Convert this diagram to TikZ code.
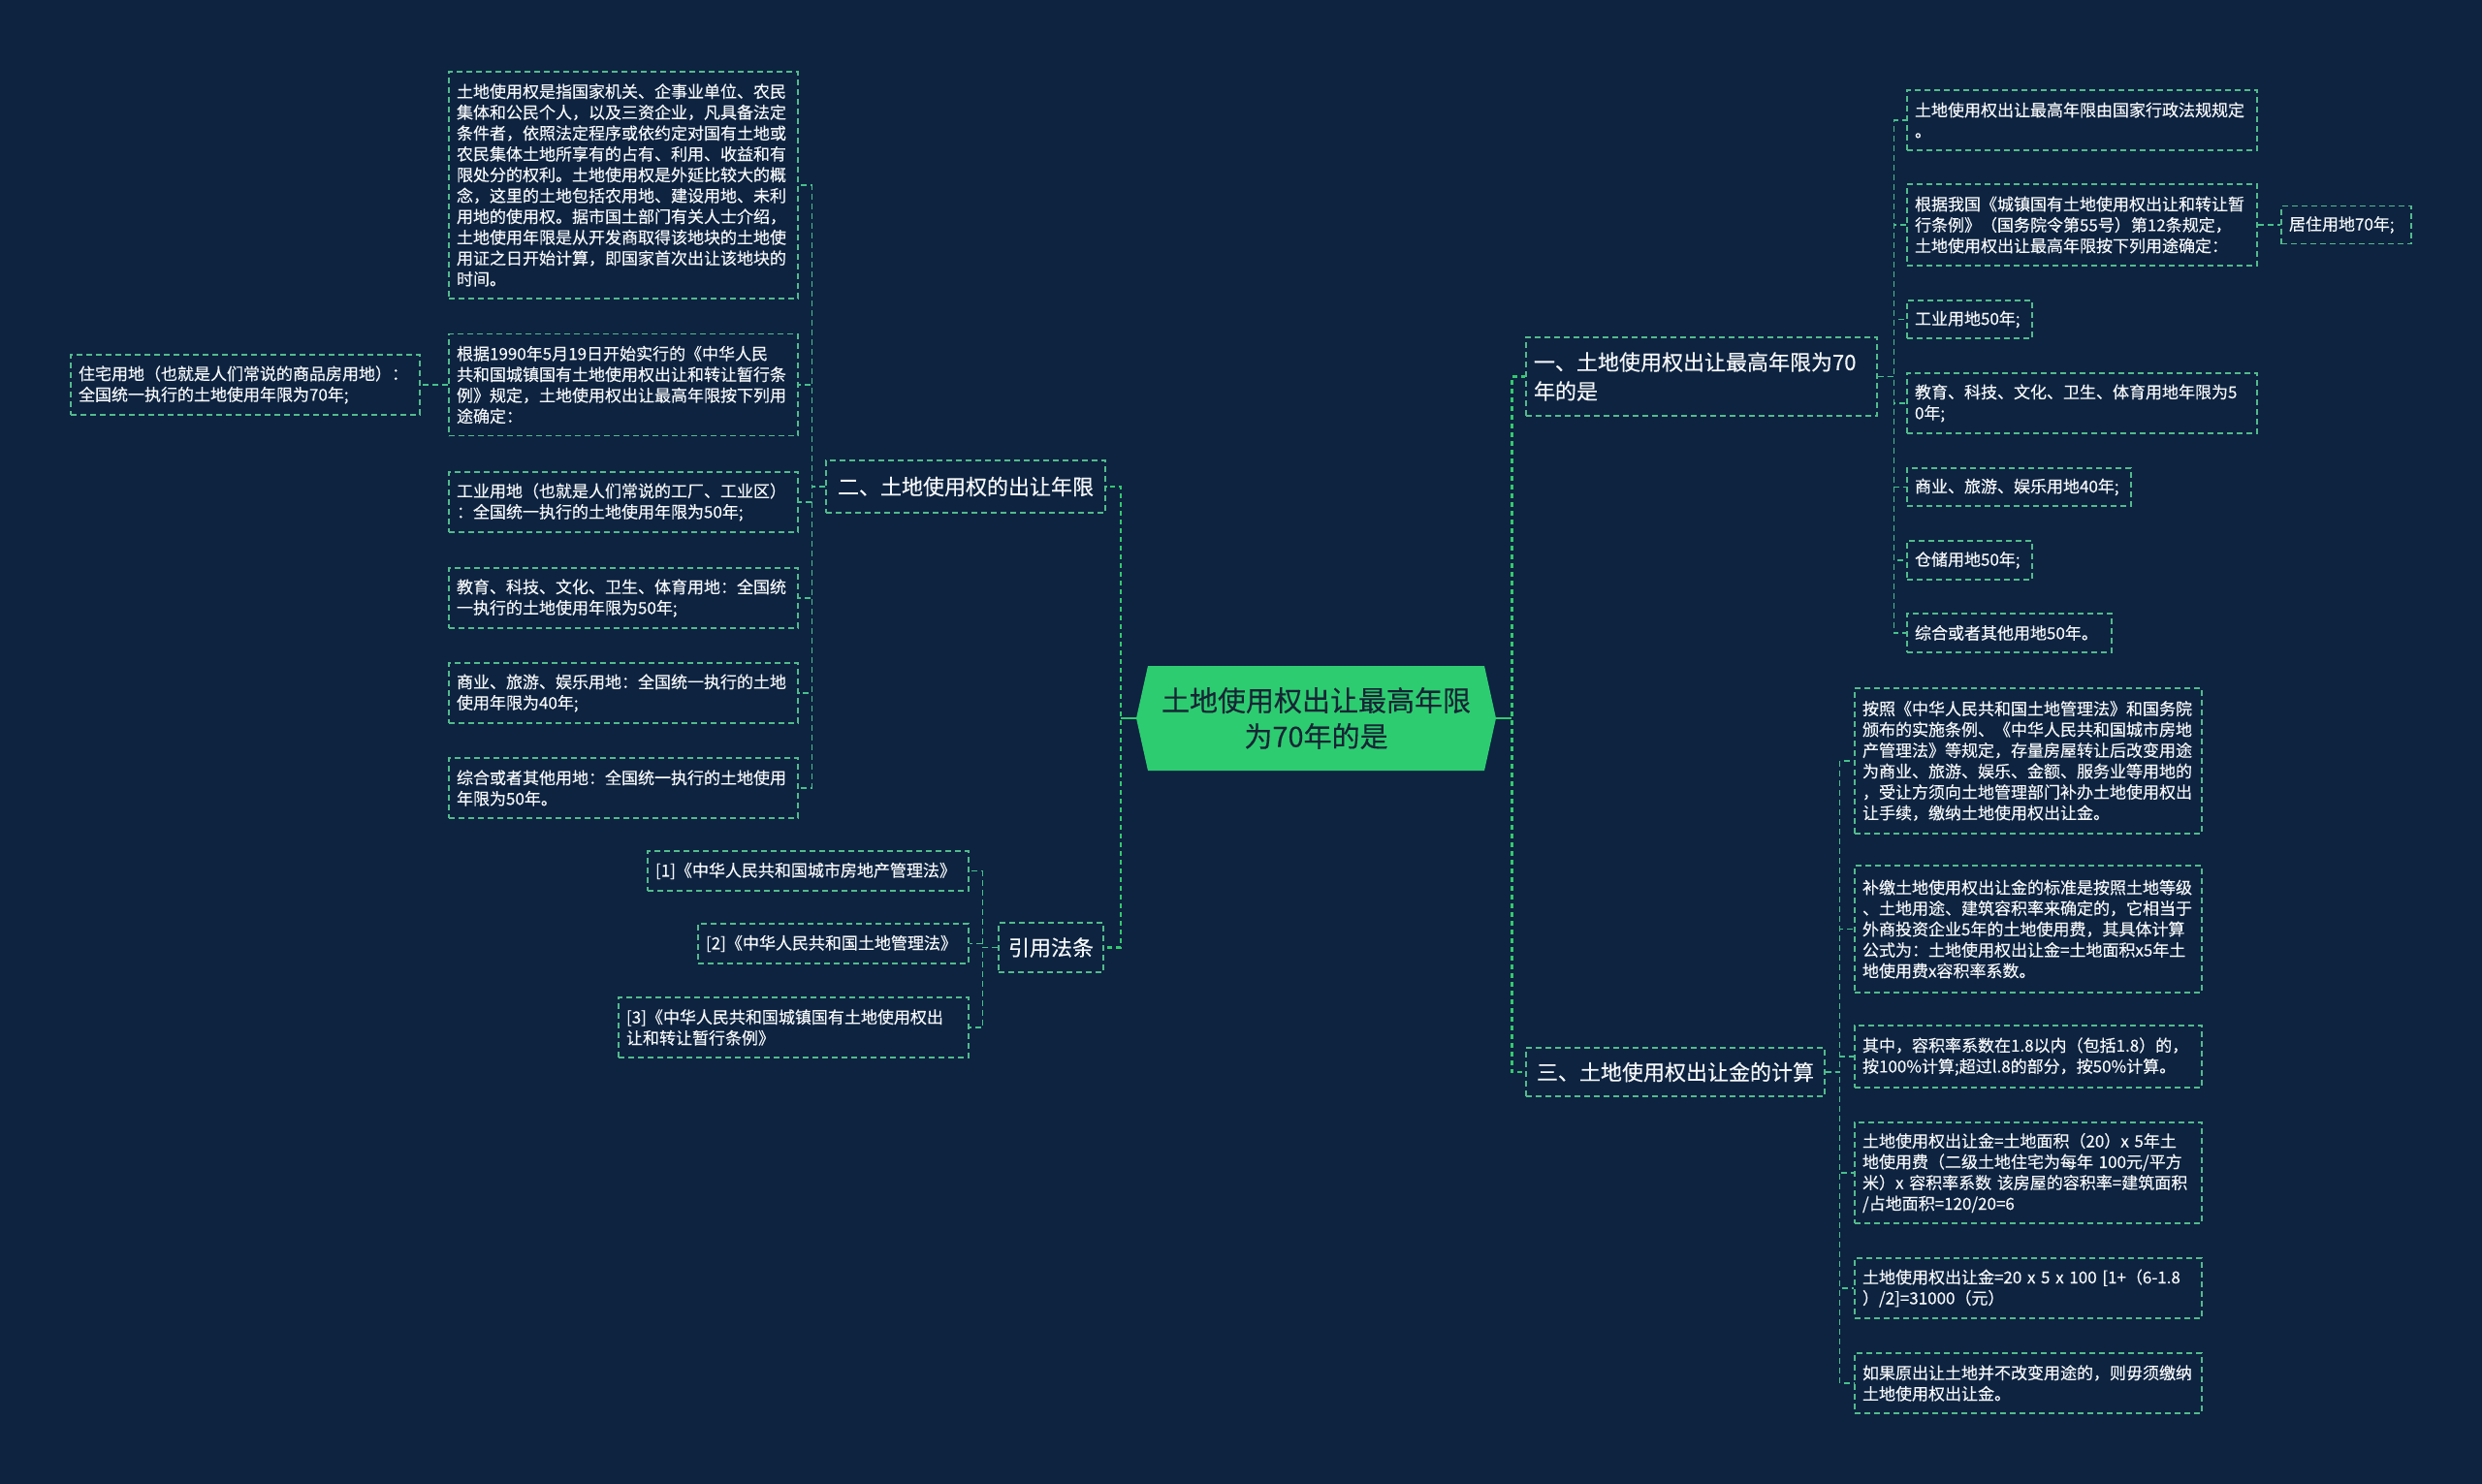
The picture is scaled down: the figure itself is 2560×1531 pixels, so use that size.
\documentclass[tikz,border=0pt]{standalone}
\usepackage{fontspec}
\setmainfont{Noto Sans CJK SC}[FakeBold=0.3]
\usepackage{tikz}
\usetikzlibrary{shapes.symbols}
\definecolor{navybg}{RGB}{13,35,64}
\definecolor{rootgreen}{RGB}{46,204,113}
\definecolor{rootink}{RGB}{22,38,52}
\definecolor{busgreen}{RGB}{52,200,110}
\definecolor{linkgreen}{RGB}{72,192,140}
\definecolor{boxgreen}{RGB}{84,186,140}
\definecolor{paleink}{RGB}{244,246,248}
\tikzset{
  mainlink/.style={draw=busgreen, line width=2.6pt, dash pattern=on 5pt off 4pt},
  mainstub/.style={draw=busgreen, line width=2.6pt},
  link/.style={draw=linkgreen, line width=1.5pt, dash pattern=on 6pt off 4pt},
  box/.style={
    draw=boxgreen,
    line width=1.4pt,
    dash pattern=on 6pt off 4pt,
    text=paleink,
    align=left,
    inner xsep=8pt,
    inner ysep=0pt
  },
  leaf/.style={box, font=\fontsize{17}{21.5}\selectfont},
  branch/.style={box, font=\fontsize{22}{30}\selectfont},
  rootbox/.style={
    shape=signal,
    signal to=west and east,
    signal pointer angle=155,
    fill=rootgreen,
    text=rootink,
    align=center,
    inner sep=0pt,
    font=\fontsize{29}{37}\selectfont
  }
}

\begin{document}
\begin{tikzpicture}[x=1pt,y=-1pt]
  \useasboundingbox (0,0) rectangle (2560,1531);
  \fill[navybg] (0,0) rectangle (2560,1531);

  \node[rootbox, minimum width=371pt, minimum height=108pt] (root) at (1357.5,741) {土地使用权出让最高年限\\为70年的是};

  % left half
  \node[branch, minimum width=288pt, minimum height=54pt] (sectwo) at (996,502) {二、土地使用权的出让年限};
  \node[branch, minimum width=108pt, minimum height=51pt] (lawref) at (1084,977.5) {引用法条};

  \node[leaf, text width=344pt, minimum height=234pt] (landdef) at (643,191) {土地使用权是指国家机关、企事业单位、农民\\集体和公民个人，以及三资企业，凡具备法定\\条件者，依照法定程序或依约定对国有土地或\\农民集体土地所享有的占有、利用、收益和有\\限处分的权利。土地使用权是外延比较大的概\\念，这里的土地包括农用地、建设用地、未利\\用地的使用权。据市国土部门有关人士介绍，\\土地使用年限是从开发商取得该地块的土地使\\用证之日开始计算，即国家首次出让该地块的\\时间。};
  \node[leaf, text width=344pt, minimum height=105pt] (oldrule) at (643,397) {根据1990年5月19日开始实行的《中华人民\\共和国城镇国有土地使用权出让和转让暂行条\\例》规定，土地使用权出让最高年限按下列用\\途确定：};
  \node[leaf, text width=344pt, minimum height=62pt] (housing) at (253,397) {住宅用地（也就是人们常说的商品房用地）：\\全国统一执行的土地使用年限为70年;};
  \node[leaf, text width=344pt, minimum height=62pt] (factory) at (643,518) {工业用地（也就是人们常说的工厂、工业区）\\：全国统一执行的土地使用年限为50年;};
  \node[leaf, text width=344pt, minimum height=62pt] (school) at (643,617) {教育、科技、文化、卫生、体育用地：全国统\\一执行的土地使用年限为50年;};
  \node[leaf, text width=344pt, minimum height=62pt] (business) at (643,715) {商业、旅游、娱乐用地：全国统一执行的土地\\使用年限为40年;};
  \node[leaf, text width=344pt, minimum height=62pt] (mixeduse) at (643,813) {综合或者其他用地：全国统一执行的土地使用\\年限为50年。};

  \node[leaf, text width=315pt, minimum height=41pt] (refone) at (833.5,898.5) {[1]《中华人民共和国城市房地产管理法》};
  \node[leaf, text width=263pt, minimum height=41pt] (reftwo) at (859.5,973.5) {[2]《中华人民共和国土地管理法》};
  \node[leaf, text width=345pt, minimum height=62pt] (refthree) at (818.5,1060) {[3]《中华人民共和国城镇国有土地使用权出\\让和转让暂行条例》};

  % right half
  \node[branch, text width=346pt, minimum height=81pt] (secone) at (1755,388.5) {一、土地使用权出让最高年限为70\\年的是};
  \node[branch, minimum width=308pt, minimum height=50pt] (secthree) at (1728,1106) {三、土地使用权出让金的计算};

  \node[leaf, text width=345pt, minimum height=62pt] (statelaw) at (2147.5,124) {土地使用权出让最高年限由国家行政法规规定\\。};
  \node[leaf, text width=345pt, minimum height=84pt] (newrule) at (2147.5,232) {根据我国《城镇国有土地使用权出让和转让暂\\行条例》（国务院令第55号）第12条规定，\\土地使用权出让最高年限按下列用途确定：};
  \node[leaf, text width=118pt, minimum height=39pt] (housing70) at (2420,232) {居住用地70年;};
  \node[leaf, text width=113pt, minimum height=39pt] (factory50) at (2031.5,329.5) {工业用地50年;};
  \node[leaf, text width=345pt, minimum height=62pt] (school50) at (2147.5,416) {教育、科技、文化、卫生、体育用地年限为5\\0年;};
  \node[leaf, text width=215pt, minimum height=39pt] (business40) at (2082.5,502.5) {商业、旅游、娱乐用地40年;};
  \node[leaf, text width=113pt, minimum height=40pt] (storage50) at (2031.5,578) {仓储用地50年;};
  \node[leaf, text width=195pt, minimum height=40pt] (mixed50) at (2072.5,653) {综合或者其他用地50年。};

  \node[leaf, text width=342pt, minimum height=150pt] (resale) at (2092,785) {按照《中华人民共和国土地管理法》和国务院\\颁布的实施条例、《中华人民共和国城市房地\\产管理法》等规定，存量房屋转让后改变用途\\为商业、旅游、娱乐、金额、服务业等用地的\\，受让方须向土地管理部门补办土地使用权出\\让手续，缴纳土地使用权出让金。};
  \node[leaf, text width=342pt, minimum height=131pt] (feerule) at (2092,958.5) {补缴土地使用权出让金的标准是按照土地等级\\、土地用途、建筑容积率来确定的，它相当于\\外商投资企业5年的土地使用费，其具体计算\\公式为：土地使用权出让金=土地面积x5年土\\地使用费x容积率系数。};
  \node[leaf, text width=342pt, minimum height=64pt] (ratio) at (2092,1090) {其中，容积率系数在1.8以内（包括1.8）的，\\按100\%计算;超过l.8的部分，按50\%计算。};
  \node[leaf, text width=342pt, minimum height=104pt] (formula) at (2092,1210) {土地使用权出让金=土地面积（20）x 5年土\\地使用费（二级土地住宅为每年 100元/平方\\米）x 容积率系数 该房屋的容积率=建筑面积\\/占地面积=120/20=6};
  \node[leaf, text width=342pt, minimum height=62pt] (result) at (2092,1329) {土地使用权出让金=20 x 5 x 100 [1+（6-1.8\\）/2]=31000（元）};
  \node[leaf, text width=342pt, minimum height=62pt] (exempt) at (2092,1427) {如果原出让土地并不改变用途的，则毋须缴纳\\土地使用权出让金。};

  % connectors
  \draw[mainlink] (root.west) -- ++(-16,0) |- (sectwo.east);
  \draw[mainlink] (root.west) -- ++(-16,0) |- (lawref.east);
  \draw[mainstub] (root.west) -- ++(-16,0);
  \draw[mainlink] (root.east) -- ++(16,0) |- (secone.west);
  \draw[mainlink] (root.east) -- ++(16,0) |- (secthree.west);
  \draw[mainstub] (root.east) -- ++(16,0);

  \draw[link] (sectwo.west) -- ++(-14,0) |- (landdef.east);
  \draw[link] (sectwo.west) -- ++(-14,0) |- (oldrule.east);
  \draw[link] (sectwo.west) -- ++(-14,0) |- (factory.east);
  \draw[link] (sectwo.west) -- ++(-14,0) |- (school.east);
  \draw[link] (sectwo.west) -- ++(-14,0) |- (business.east);
  \draw[link] (sectwo.west) -- ++(-14,0) |- (mixeduse.east);
  \draw[link] (oldrule.west) -- (housing.east);

  \draw[link] (lawref.west) -- ++(-16,0) |- (refone.east);
  \draw[link] (lawref.west) -- ++(-16,0) |- (reftwo.east);
  \draw[link] (lawref.west) -- ++(-16,0) |- (refthree.east);

  \draw[link] (secone.east) -- ++(17,0) |- (statelaw.west);
  \draw[link] (secone.east) -- ++(17,0) |- (newrule.west);
  \draw[link] (secone.east) -- ++(17,0) |- (factory50.west);
  \draw[link] (secone.east) -- ++(17,0) |- (school50.west);
  \draw[link] (secone.east) -- ++(17,0) |- (business40.west);
  \draw[link] (secone.east) -- ++(17,0) |- (storage50.west);
  \draw[link] (secone.east) -- ++(17,0) |- (mixed50.west);
  \draw[link] (newrule.east) -- (housing70.west);

  \draw[link] (secthree.east) -- ++(15,0) |- (resale.west);
  \draw[link] (secthree.east) -- ++(15,0) |- (feerule.west);
  \draw[link] (secthree.east) -- ++(15,0) |- (ratio.west);
  \draw[link] (secthree.east) -- ++(15,0) |- (formula.west);
  \draw[link] (secthree.east) -- ++(15,0) |- (result.west);
  \draw[link] (secthree.east) -- ++(15,0) |- (exempt.west);
\end{tikzpicture}
\end{document}
